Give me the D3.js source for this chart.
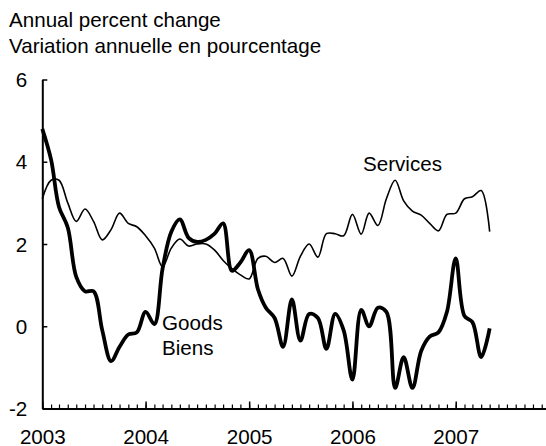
<!DOCTYPE html>
<html>
<head>
<meta charset="utf-8">
<script src="https://cdn.jsdelivr.net/npm/d3@7"></script>
<style>
  html, body { margin: 0; padding: 0; background: #fff; }
  svg { display: block; }
  text { font-family: "Liberation Sans", Arial, sans-serif; fill: #000; }
</style>
</head>
<body>
<svg id="chart" width="546" height="446"></svg>
<script>
// ---- Data (monthly, Jan 2003 – May 2007) ----
const startYear = 2003;
const goods = [
  4.8, 4.05, 2.9, 2.4, 1.2, 0.85, 0.85, -0.1, -0.85, -0.5, -0.2, -0.15,
  0.35, 0.05, 1.4, 2.3, 2.6, 2.15, 2.05, 2.1, 2.25, 2.5, 1.35, 1.55,
  1.85, 0.9, 0.45, 0.2, -0.5, 0.65, -0.35, 0.3, 0.2, -0.55, 0.3, -0.1,
  -1.3, 0.4, 0.0, 0.45, 0.35, -1.5, -0.75, -1.5, -0.6, -0.25, -0.15, 0.35,
  1.65, 0.25, 0.1, -0.75, -0.05
];
const services = [
  3.1, 3.55, 3.55, 3.0, 2.55, 2.85, 2.55, 2.1, 2.35, 2.75, 2.5, 2.42,
  2.2, 1.9, 1.45, 1.9, 2.12, 1.95, 2.0, 2.0, 1.85, 1.6, 1.4, 1.25,
  1.15, 1.65, 1.7, 1.55, 1.65, 1.22, 1.7, 2.0, 1.68, 2.25, 2.25, 2.2,
  2.72, 2.24, 2.75, 2.45, 3.1, 3.55, 3.05, 2.8, 2.7, 2.5, 2.32, 2.72,
  2.75, 3.1, 3.15, 3.3, 2.3
];
const yTicks = [-2, 0, 2, 4, 6];
const yTickLabels = ["-2", "0", "2", "4", "6"];
const yearLabels = ["2003", "2004", "2005", "2006", "2007"];
const titleLines = ["Annual percent change", "Variation annuelle en pourcentage"];
const seriesLabels = { services: ["Services"], goods: ["Goods", "Biens"] };

// ---- Layout ----
const svg = d3.select("#chart");
const x0 = 42.3, x1 = 559, yTop = 79.5, yBot = 408.5;
const fs = 20.6;

const x = d3.scaleTime()
  .domain([new Date(2003, 0, 1), new Date(2008, 0, 1)])
  .range([x0, x1]);
const y = d3.scaleLinear().domain([-2, 6]).range([yBot, yTop]);

const dates = goods.map((_, i) => new Date(startYear, i, 1));

// Title
svg.append("g").selectAll("text").data(titleLines).join("text")
  .attr("x", 9).attr("y", 26.5 + 0).attr("y", (d, i) => 26.5 + i * 26)
  .attr("font-size", fs).text(d => d);

// Y axis
const yAxis = d3.axisLeft(y).tickValues(yTicks).tickSize(-5).tickSizeOuter(0).tickPadding(15)
  .tickFormat((d, i) => yTickLabels[i]);
const gy = svg.append("g").attr("transform", `translate(${x0},0)`).call(yAxis);
gy.select(".domain").attr("stroke", "#000").attr("stroke-width", 2);
gy.selectAll(".tick line").attr("stroke", "#000").attr("stroke-width", 1.5);
gy.selectAll(".tick text").attr("font-size", fs).attr("font-family", "Liberation Sans, Arial, sans-serif")
  .attr("dy", null).attr("y", 7).attr("fill", "#000");

// X axis: monthly minor ticks
const months = d3.timeMonth.range(new Date(2003, 0, 1), new Date(2008, 0, 2));
const xMinor = d3.axisBottom(x).tickValues(months).tickSize(-4).tickSizeOuter(0).tickFormat("");
const gxm = svg.append("g").attr("transform", `translate(0,${yBot})`).call(xMinor);
gxm.select(".domain").attr("stroke", "#000").attr("stroke-width", 2);
gxm.selectAll(".tick line").attr("stroke", "#000").attr("stroke-width", 1.2);

// X axis: yearly major ticks + labels
const years = yearLabels.map(s => new Date(+s, 0, 1));
const xMajor = d3.axisBottom(x).tickValues(years).tickSize(-7).tickSizeOuter(0)
  .tickFormat((d, i) => yearLabels[i]);
const gxM = svg.append("g").attr("transform", `translate(0,${yBot})`).call(xMajor);
gxM.select(".domain").remove();
gxM.selectAll(".tick line").attr("stroke", "#000").attr("stroke-width", 1.5);
gxM.selectAll(".tick text").attr("font-size", fs).attr("font-family", "Liberation Sans, Arial, sans-serif")
  .attr("dy", null).attr("y", 35).attr("fill", "#000");

// Lines
const line = d3.line()
  .x((d, i) => x(dates[i]))
  .y(d => y(d))
  .curve(d3.curveCatmullRom.alpha(0.5));

svg.append("path").datum(services)
  .attr("fill", "none").attr("stroke", "#000").attr("stroke-width", 1.6)
  .attr("stroke-linejoin", "round").attr("d", line);

svg.append("path").datum(goods)
  .attr("fill", "none").attr("stroke", "#000").attr("stroke-width", 3.8)
  .attr("stroke-linejoin", "round").attr("d", line);

// Series labels
svg.append("g").selectAll("text").data(seriesLabels.services).join("text")
  .attr("x", 363).attr("y", 170.5).attr("font-size", fs).text(d => d);
svg.append("g").selectAll("text").data(seriesLabels.goods).join("text")
  .attr("x", 162).attr("y", (d, i) => 329.5 + i * 25.7).attr("font-size", fs).text(d => d);
</script>
</body>
</html>
